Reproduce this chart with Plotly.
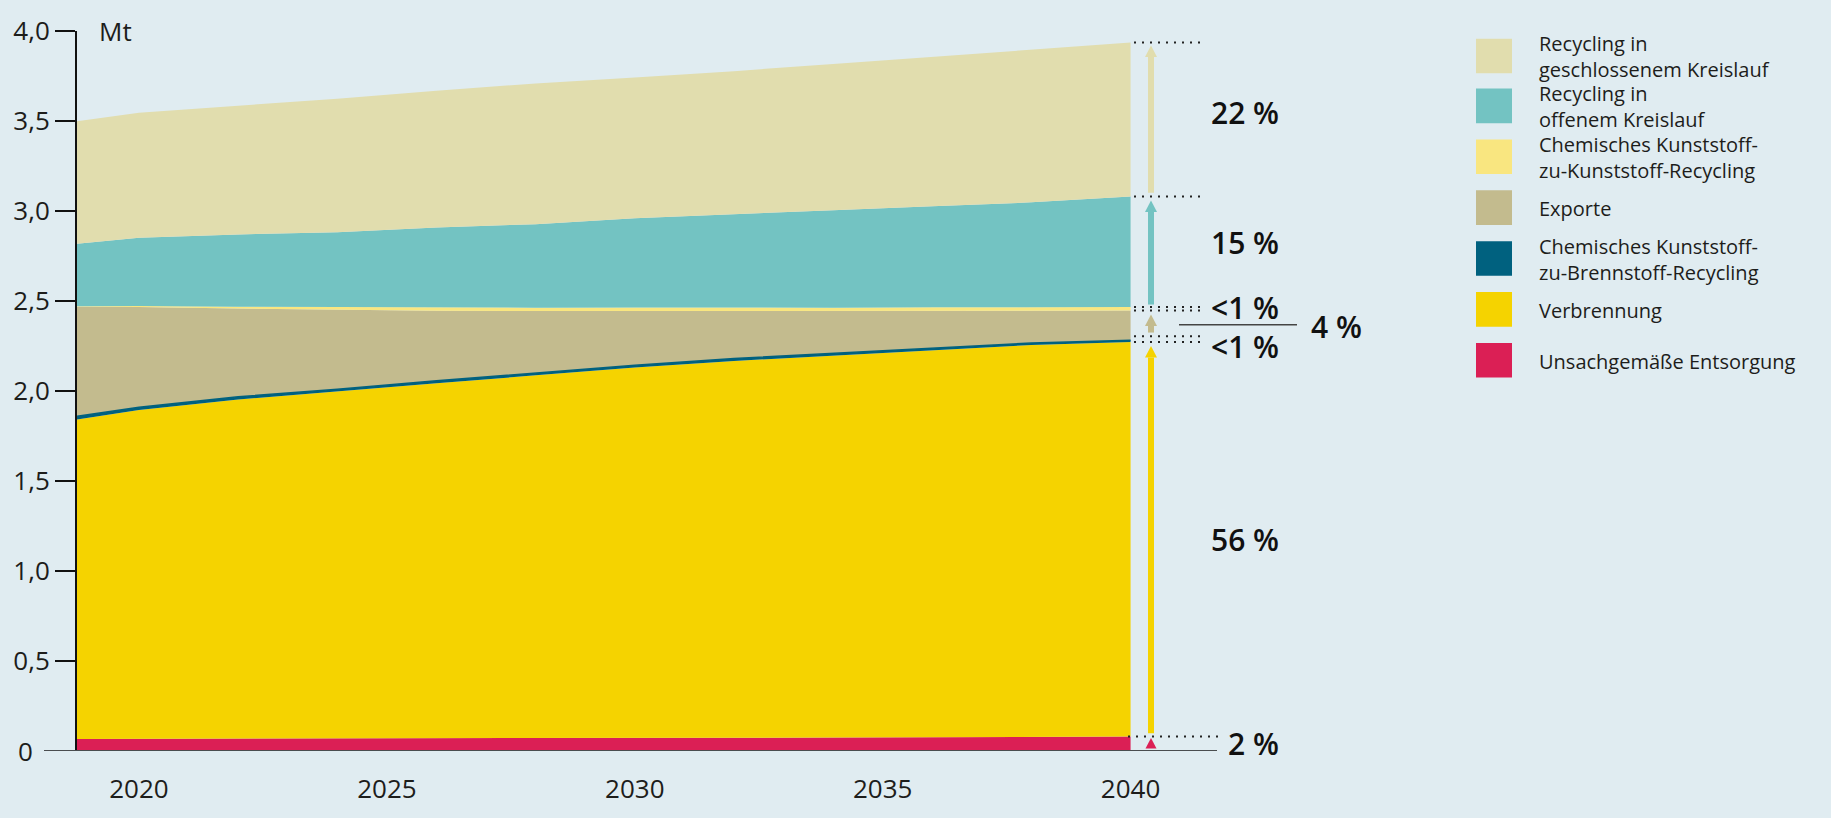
import plotly.graph_objects as go

# ---------------- data (Mt) ----------------
years = [2018.75, 2020, 2022, 2024, 2026, 2028, 2030, 2032, 2034, 2036, 2038, 2040]

unsachgemaesse_entsorgung = [0.067, 0.068, 0.069, 0.070, 0.071, 0.072, 0.073, 0.074, 0.075, 0.077, 0.078, 0.080]
verbrennung = [1.775, 1.827, 1.884, 1.926, 1.972, 2.015, 2.057, 2.093, 2.123, 2.150, 2.178, 2.192]
chem_brennstoff = [0.018, 0.015, 0.015, 0.014, 0.014, 0.014, 0.013, 0.013, 0.012, 0.012, 0.011, 0.010]
exporte = [0.608, 0.557, 0.490, 0.441, 0.389, 0.343, 0.301, 0.262, 0.233, 0.205, 0.179, 0.165]
chem_kunststoff = [0.003, 0.005, 0.010, 0.014, 0.017, 0.019, 0.020, 0.020, 0.020, 0.021, 0.020, 0.020]
offener_kreislauf = [0.347, 0.380, 0.402, 0.417, 0.445, 0.464, 0.496, 0.518, 0.541, 0.561, 0.582, 0.613]
geschlossener_kreislauf = [0.681, 0.694, 0.715, 0.741, 0.760, 0.782, 0.782, 0.797, 0.813, 0.831, 0.849, 0.856]

series_names = [
    "Unsachgemäße Entsorgung",
    "Verbrennung",
    "Chemisches Kunststoff-zu-Brennstoff-Recycling",
    "Exporte",
    "Chemisches Kunststoff-zu-Kunststoff-Recycling",
    "Recycling in offenem Kreislauf",
    "Recycling in geschlossenem Kreislauf",
]
series_values = [
    unsachgemaesse_entsorgung, verbrennung, chem_brennstoff, exporte,
    chem_kunststoff, offener_kreislauf, geschlossener_kreislauf,
]
series_colors = ["#db1f55", "#f5d300", "#00617f", "#c3bb8e", "#f9e680", "#73c3c2", "#e1ddae"]

legend_labels = [
    "Recycling in<br>geschlossenem Kreislauf",
    "Recycling in<br>offenem Kreislauf",
    "Chemisches Kunststoff-<br>zu-Kunststoff-Recycling",
    "Exporte",
    "Chemisches Kunststoff-<br>zu-Brennstoff-Recycling",
    "Verbrennung",
    "Unsachgemäße Entsorgung",
]
legend_colors = ["#e1ddae", "#73c3c2", "#f9e680", "#c3bb8e", "#00617f", "#f5d300", "#db1f55"]

share_labels = ["2 %", "56 %", "<1 %", "4 %", "<1 %", "15 %", "22 %"]

y_tickvals = [0.5, 1.0, 1.5, 2.0, 2.5, 3.0, 3.5, 4.0]
y_ticktext = ["0,5", "1,0", "1,5", "2,0", "2,5", "3,0", "3,5", "4,0"]
x_tickvals = [2020, 2025, 2030, 2035, 2040]

# ---------------- layout geometry ----------------
BG = "#e0ecf1"
TXT = "#1d1d1b"
FONT = "Open Sans"
W, H = 1831, 818
L, R, T, B = 77, 611, 23, 45
PW, PH = W - L - R, H - T - B
X0 = 2018.75
PX_PER_YEAR = 49.58
X1 = X0 + PW / PX_PER_YEAR
YMAX = 4.0


def pxx(p):  # pixel x -> paper x
    return (p - L) / PW


def pxy(p):  # pixel y -> paper y
    return (H - B - p) / PH


def yr(p):  # pixel x -> data x
    return X0 + (p - L) / PX_PER_YEAR


def mt(dp):  # pixel height -> Mt
    return dp * YMAX / PH


fig = go.Figure()
for name, vals, col in zip(series_names, series_values, series_colors):
    lw = 1.5 if col == "#00617f" else 0
    fig.add_trace(go.Scatter(
        x=years, y=vals, name=name, stackgroup="one", mode="lines",
        line=dict(width=lw, color=col), fillcolor=col, hoverinfo="skip",
    ))

# cumulative values in 2040
cum = []
s = 0
for vals in series_values:
    s += vals[-1]
    cum.append(s)
red_top, yel_top, blue_top, exp_top, lty_top, teal_top, total = cum

shapes = []
annotations = []

# baseline
shapes.append(dict(type="line", xref="paper", yref="y", x0=pxx(44), x1=pxx(1217), y0=0, y1=0,
                   line=dict(color="#4a4d4f", width=2)))

# dotted guide lines at 2040
xd0, xd1 = yr(1134), yr(1205)
guides = [total, teal_top, lty_top, exp_top, max(blue_top, yel_top + mt(6)), yel_top]
for g in guides:
    shapes.append(dict(type="line", xref="x", yref="y", x0=xd0, x1=xd1, y0=g, y1=g,
                       line=dict(color="#222222", width=2, dash="2px,6px")))
shapes.append(dict(type="line", xref="x", yref="y", x0=yr(1128), x1=yr(1218), y0=red_top, y1=red_top,
                   line=dict(color="#222222", width=2, dash="2px,6px")))

# arrows
xc = yr(1151)
half_shaft = 3 / PX_PER_YEAR
half_head = 6 / PX_PER_YEAR
head_h = mt(12)


def arrow(lo, hi, color):
    shapes.append(dict(type="rect", xref="x", yref="y", x0=xc - half_shaft, x1=xc + half_shaft,
                       y0=lo, y1=hi - head_h, fillcolor=color, line=dict(width=0)))
    shapes.append(dict(type="path", xref="x", yref="y",
                       path=f"M {xc - half_head},{hi - head_h} L {xc + half_head},{hi - head_h} L {xc},{hi} Z",
                       fillcolor=color, line=dict(width=0)))


arrow(teal_top + mt(4), total - mt(3), "#e1ddae")
arrow(lty_top + mt(2.5), teal_top - mt(4), "#73c3c2")
arrow(blue_top + mt(8), exp_top - mt(4), "#c3bb8e")
arrow(red_top + mt(3.5), yel_top - mt(4), "#f5d300")
hh = 5.5 / PX_PER_YEAR
shapes.append(dict(type="path", xref="x", yref="y",
                   path=f"M {xc - hh},{mt(2.5)} L {xc + hh},{mt(2.5)} L {xc},{red_top - mt(1.5)} Z",
                   fillcolor="#db1f55", line=dict(width=0)))

# share labels (right side)
PCT = dict(family=FONT, size=30, color="#111111", weight=600)
single = {0: 765, 1: 553, 5: 243, 6: 108}
for i, py in single.items():
    annotations.append(dict(text=share_labels[i], xref="paper", yref="paper", x=pxx(1281), y=pxy(py),
                            xanchor="right", yanchor="middle", showarrow=False, font=PCT))
# the two "<1 %" labels stacked
annotations.append(dict(text=share_labels[4] + "<br>" + share_labels[2], xref="paper", yref="paper",
                        x=pxx(1281), y=pxy(331), xanchor="right", yanchor="middle", align="right",
                        showarrow=False, font=PCT))
annotations.append(dict(text=share_labels[3], xref="paper", yref="paper", x=pxx(1364), y=pxy(331),
                        xanchor="right", yanchor="middle", showarrow=False, font=PCT))
shapes.append(dict(type="line", xref="paper", yref="paper", x0=pxx(1179), x1=pxx(1297),
                   y0=pxy(329), y1=pxy(329), line=dict(color="#444444", width=1.5)))

# "0" label and unit
annotations.append(dict(text="0", xref="paper", yref="y", x=pxx(35), y=0, xanchor="right",
                        yanchor="middle", showarrow=False, font=dict(family=FONT, size=26, color=TXT)))
annotations.append(dict(text="Mt", xref="paper", yref="y", x=pxx(97), y=4.0, xanchor="left",
                        yanchor="middle", showarrow=False, font=dict(family=FONT, size=26, color=TXT)))

# legend
leg_cy = [49, 101, 154, 207, 260, 313, 366]
for txt, col, cy in zip(legend_labels, legend_colors, leg_cy):
    shapes.append(dict(type="rect", xref="paper", yref="paper", x0=pxx(1476), x1=pxx(1512),
                       y0=pxy(cy + 18), y1=pxy(cy - 18), fillcolor=col, line=dict(width=0)))
    annotations.append(dict(text=txt, xref="paper", yref="paper", x=pxx(1537), y=pxy(cy + 1),
                            xanchor="left", yanchor="middle", align="left", showarrow=False,
                            font=dict(family=FONT, size=20, color=TXT)))

fig.update_layout(
    width=W, height=H, autosize=False,
    margin=dict(l=L, r=R, t=T, b=B, pad=0),
    paper_bgcolor=BG, plot_bgcolor=BG,
    showlegend=False,
    font=dict(family=FONT, size=26, color=TXT),
    shapes=shapes, annotations=annotations,
    xaxis=dict(range=[X0, X1], tickvals=x_tickvals, ticks="outside", ticklen=15,
               tickcolor="rgba(0,0,0,0)", showgrid=False, zeroline=False, showline=False,
               tickfont=dict(family=FONT, size=26, color=TXT), fixedrange=True),
    yaxis=dict(range=[0, YMAX], tickvals=y_tickvals, ticktext=y_ticktext, ticks="outside",
               ticklen=20, tickwidth=2, tickcolor="#111111", showline=True, linecolor="#111111",
               linewidth=2, showgrid=False, zeroline=False,
               tickfont=dict(family=FONT, size=26, color=TXT), fixedrange=True),
)

fig.write_html(
    "out.html",
    config=dict(displayModeBar=False),
    post_script="document.body.style.margin='0';document.body.style.background='" + BG + "';",
)
